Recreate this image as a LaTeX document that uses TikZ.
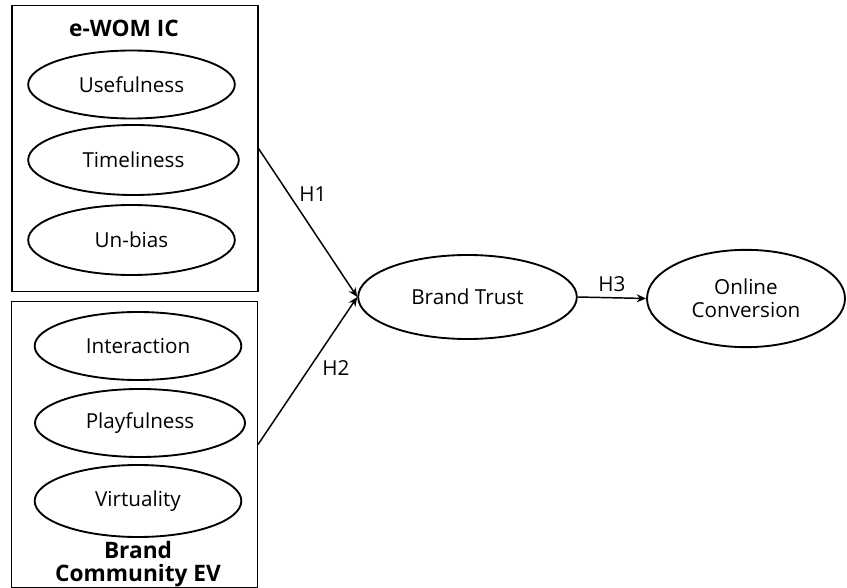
\documentclass[tikz,border=0pt]{standalone}
\usepackage{fontspec}
\setmainfont{Open Sans}
\usetikzlibrary{arrows.meta,shapes.geometric}

\begin{document}
\begin{tikzpicture}[
  x=0.75pt, y=-0.75pt,
  font=\fontsize{15.5}{18}\selectfont,
  group/.style={rectangle, draw, line width=0.8pt, minimum width=184.5pt, minimum height=214.5pt},
  item/.style={ellipse, draw, line width=1.4pt, inner sep=0pt, minimum width=155pt, minimum height=51pt},
  construct/.style={ellipse, draw, line width=1.4pt, inner sep=0pt, align=center},
  title/.style={font=\fontsize{17}{19}\selectfont\bfseries, align=center},
  arr/.style={-{Stealth[length=7pt,width=6pt]}, line width=1.1pt},
  hyp/.style={inner sep=2pt}
]
\useasboundingbox (0,0) rectangle (847,588);

% measurement groups
\node[group] (ewomic) at (135,148.5) {};
\node[group] (brandev) at (134.5,444.5) {};

\node[title] (ewomtitle) at (124,28) {e-WOM IC};
\node[item] (useful) at (131.5,84.5) {Usefulness};
\node[item, minimum width=158pt, minimum height=52.5pt] (timely) at (133.5,160) {Timeliness};
\node[item, minimum height=52.5pt] (unbias) at (131.5,240) {Un-bias};

\node[item] (interact) at (138,346) {Interaction};
\node[item, minimum width=157.5pt] (playful) at (140,423) {Playfulness};
\node[item, minimum height=54pt] (virtual) at (138,501) {Virtuality};
\node[title, font=\fontsize{17}{17}\selectfont\bfseries] (bevtitle) at (138,564) {Brand\\Community EV};

% outcome constructs
\node[construct, minimum width=164pt, minimum height=63pt] (trust) at (467.5,297) {Brand Trust};
\node[construct, minimum width=148.5pt, minimum height=73pt, font=\fontsize{15.5}{17.5}\selectfont] (conv) at (746,298.5) {Online\\Conversion};

% hypothesised paths
\draw[arr] (ewomic.east) -- node[hyp, pos=0.38, above right] {H1} (trust.west);
\draw[arr] (brandev.east) -- node[hyp, pos=0.52, right, xshift=7pt] {H2} (trust.west);
\draw[arr] (trust.east) -- node[hyp, above, yshift=2pt] {H3} (conv.west);
\end{tikzpicture}
\end{document}
